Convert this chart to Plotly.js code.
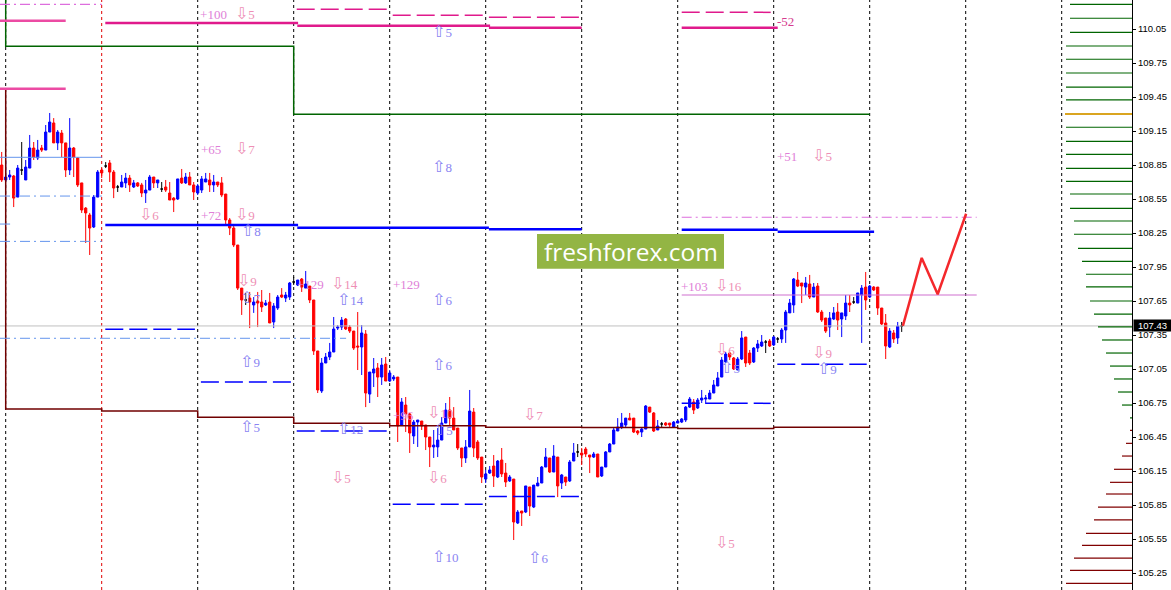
<!DOCTYPE html>
<html><head><meta charset="utf-8">
<script src="https://cdn.plot.ly/plotly-3.0.1.min.js"></script>
<style>html,body{margin:0;padding:0;background:#fff;overflow:hidden}#chart{width:1171px;height:590px}</style>
</head><body><div id="chart"></div>
<script>
// hourly candles, bar index starts at -1
const firstBar = -1;
const openP = [108.850,108.718,108.744,108.753,108.567,108.806,108.718,108.823,109.000,108.912,109.000,108.982,109.141,109.221,109.045,109.132,109.045,108.806,109.000,108.912,108.692,108.470,108.409,108.303,108.567,108.806,108.841,108.868,108.788,108.656,108.656,108.692,108.735,108.656,108.692,108.674,108.603,108.629,108.744,108.692,108.638,108.656,108.603,108.558,108.550,108.735,108.692,108.744,108.674,108.603,108.629,108.700,108.718,108.674,108.700,108.692,108.594,108.365,108.294,108.144,107.764,107.659,107.676,107.615,107.650,107.641,107.615,107.641,107.465,107.588,107.703,107.676,107.685,107.818,107.791,107.844,107.764,107.782,107.659,107.209,106.856,107.103,107.156,107.200,107.411,107.420,107.491,107.420,107.385,107.253,107.244,107.359,106.829,107.015,107.059,106.979,107.094,106.944,106.962,106.979,106.556,106.732,106.653,106.459,106.582,106.591,106.556,106.450,106.362,106.362,106.423,106.573,106.688,106.617,106.529,106.353,106.265,106.362,106.670,106.406,106.273,106.079,106.132,106.194,106.097,106.247,106.132,106.062,106.079,105.691,105.797,105.788,106.009,105.832,106.018,106.044,106.185,106.265,106.141,106.273,106.044,106.097,106.062,106.238,106.318,106.309,106.344,106.291,106.273,106.300,106.106,106.185,106.318,106.388,106.503,106.538,106.556,106.617,106.617,106.503,106.494,106.520,106.714,106.662,106.512,106.565,106.573,106.573,106.538,106.573,106.582,106.600,106.714,106.759,106.706,106.776,106.785,106.785,106.838,106.900,106.979,107.112,107.191,107.147,107.041,107.138,107.332,107.191,107.112,107.235,107.253,107.288,107.297,107.262,107.315,107.315,107.394,107.545,107.615,107.835,107.809,107.773,107.800,107.685,107.782,107.553,107.500,107.420,107.491,107.553,107.491,107.518,107.632,107.641,107.632,107.703,107.773,107.685,107.773,107.773,107.588,107.456,107.244,107.368,107.324,107.430];
const highP = [108.965,108.894,108.806,108.762,108.850,109.053,108.894,109.115,109.053,109.071,109.027,109.203,109.309,109.264,109.159,109.159,109.045,109.264,109.009,108.920,108.692,108.479,108.427,108.585,108.806,108.823,108.876,108.894,108.806,108.674,108.762,108.780,108.762,108.718,108.700,108.692,108.718,108.762,108.744,108.718,108.700,108.718,108.700,108.567,108.727,108.815,108.780,108.788,108.700,108.683,108.753,108.780,108.780,108.762,108.700,108.744,108.594,108.382,108.312,108.144,107.764,107.721,107.730,107.685,107.730,107.747,107.659,107.721,107.632,107.703,107.764,107.730,107.818,107.862,107.835,107.853,107.915,107.782,107.659,107.209,107.147,107.191,107.280,107.509,107.438,107.509,107.500,107.438,107.385,107.553,107.438,107.394,107.023,107.147,107.103,107.147,107.156,107.041,106.997,106.979,106.794,106.803,106.662,106.600,106.600,106.591,106.556,106.450,106.512,106.529,106.626,106.750,106.803,106.714,106.529,106.353,106.423,106.865,106.706,106.423,106.273,106.159,106.194,106.291,106.247,106.353,106.221,106.115,106.079,105.806,105.797,106.018,106.009,106.026,106.097,106.194,106.353,106.265,106.379,106.273,106.124,106.097,106.247,106.397,106.388,106.353,106.362,106.291,106.318,106.300,106.185,106.326,106.397,106.538,106.617,106.662,106.617,106.662,106.617,106.512,106.538,106.732,106.714,106.670,106.600,106.582,106.582,106.573,106.591,106.600,106.617,106.723,106.803,106.785,106.794,106.865,106.821,106.865,106.953,107.023,107.156,107.200,107.200,107.156,107.156,107.385,107.332,107.218,107.244,107.306,107.350,107.306,107.315,107.341,107.332,107.411,107.571,107.668,107.853,107.906,107.809,107.862,107.880,107.809,107.809,107.571,107.500,107.553,107.597,107.632,107.545,107.703,107.703,107.685,107.721,107.791,107.906,107.791,107.782,107.773,107.588,107.535,107.411,107.394,107.465,107.465];
const lowP = [108.700,108.700,108.718,108.479,108.567,108.762,108.718,108.823,108.894,108.894,108.965,108.982,109.141,109.045,108.982,108.920,108.744,108.762,108.744,108.656,108.427,108.162,108.056,108.294,108.567,108.735,108.823,108.700,108.558,108.612,108.656,108.647,108.612,108.647,108.656,108.567,108.515,108.629,108.647,108.647,108.612,108.612,108.541,108.435,108.541,108.683,108.683,108.674,108.541,108.585,108.603,108.700,108.612,108.612,108.656,108.567,108.321,108.232,108.126,107.747,107.527,107.615,107.411,107.545,107.420,107.553,107.606,107.456,107.411,107.571,107.676,107.641,107.659,107.791,107.782,107.730,107.764,107.632,107.174,106.838,106.838,107.103,107.129,107.200,107.394,107.394,107.394,107.368,107.218,107.041,106.997,106.714,106.750,106.891,106.803,106.909,106.944,106.935,106.944,106.406,106.556,106.494,106.309,106.388,106.362,106.512,106.335,106.185,106.265,106.273,106.423,106.573,106.556,106.512,106.335,106.185,106.221,106.362,106.273,106.247,106.044,106.044,106.124,106.009,106.088,106.097,106.009,106.053,105.541,105.682,105.665,105.779,105.753,105.823,106.018,106.044,106.185,106.132,106.141,105.920,105.991,106.018,106.053,106.238,106.273,106.203,106.273,106.132,106.265,106.097,106.097,106.185,106.318,106.388,106.503,106.520,106.538,106.600,106.485,106.467,106.450,106.520,106.662,106.494,106.512,106.538,106.547,106.529,106.538,106.573,106.573,106.582,106.706,106.653,106.697,106.750,106.741,106.785,106.838,106.900,106.979,107.103,107.129,107.041,107.041,107.129,107.068,107.085,107.103,107.200,107.244,107.191,107.244,107.253,107.280,107.280,107.280,107.545,107.545,107.773,107.632,107.703,107.668,107.685,107.545,107.465,107.368,107.332,107.482,107.394,107.332,107.482,107.553,107.624,107.632,107.280,107.571,107.676,107.738,107.527,107.438,107.138,107.235,107.280,107.271,107.377];
const closeP = [108.718,108.744,108.762,108.558,108.823,108.806,108.832,109.000,108.920,108.982,108.982,109.141,109.229,109.045,109.141,109.045,108.806,109.000,108.920,108.674,108.453,108.427,108.294,108.567,108.788,108.780,108.841,108.788,108.647,108.656,108.700,108.735,108.674,108.692,108.665,108.603,108.629,108.744,108.692,108.718,108.638,108.629,108.541,108.541,108.727,108.692,108.744,108.674,108.612,108.665,108.727,108.727,108.674,108.700,108.674,108.585,108.365,108.294,108.144,107.764,107.659,107.659,107.641,107.641,107.632,107.597,107.632,107.456,107.606,107.685,107.685,107.703,107.809,107.818,107.835,107.773,107.800,107.659,107.209,106.865,107.103,107.156,107.200,107.403,107.420,107.482,107.403,107.385,107.235,107.244,107.368,106.838,107.023,107.050,106.979,107.085,106.944,107.015,106.979,106.547,106.759,106.653,106.485,106.582,106.600,106.547,106.450,106.362,106.379,106.423,106.573,106.688,106.617,106.512,106.353,106.265,106.362,106.679,106.353,106.265,106.097,106.124,106.159,106.106,106.238,106.124,106.053,106.097,105.700,105.788,105.779,106.018,105.841,106.026,106.044,106.185,106.273,106.141,106.282,106.018,106.115,106.053,106.229,106.309,106.318,106.291,106.300,106.273,106.300,106.097,106.185,106.318,106.388,106.512,106.538,106.573,106.617,106.600,106.494,106.485,106.520,106.723,106.670,106.503,106.547,106.565,106.556,106.556,106.582,106.591,106.609,106.714,106.785,106.688,106.776,106.794,106.794,106.838,106.909,106.971,107.129,107.182,107.156,107.050,107.138,107.324,107.103,107.103,107.235,107.271,107.288,107.288,107.253,107.332,107.315,107.394,107.553,107.632,107.844,107.782,107.782,107.809,107.685,107.773,107.553,107.482,107.385,107.500,107.545,107.482,107.545,107.632,107.615,107.641,107.721,107.764,107.659,107.782,107.747,107.588,107.447,107.253,107.385,107.315,107.429,107.430];

const currentPrice = 107.43;
const dayStarts = [0,24,48,72,96,120,144,168,192,216,240,264];
const redDayStart = 24;

const tickVals = [105.25,105.55,105.85,106.15,106.45,106.75,107.05,107.35,107.65,107.95,108.25,108.55,108.85,109.15,109.45,109.75,110.05];
const tickText = ['105.25','105.55','105.85','106.15','106.45','106.75','107.05','107.35','107.65','107.95','108.25','108.55','108.85','109.15','109.45','109.75','110.05'];

// level segments: [fromBar, toBar, price]
const pinkLightLevels = [[-1.425,15,110.123],[-1.425,15,109.523]];
const magentaLevels = [[24.9,73.1,110.103],[72.9,121.1,110.079],[120.8,144,110.062],[169,193,110.062]];
const magentaDashLevels = [[72.75,95.25,110.224],[96.75,119.3,110.171],[120.8,143.3,110.153],[169,191.25,110.197]];
const violetDashDotLevels = [[-1.425,24,110.268],[169,242.75,108.389]];
const violetLevels = [[169,242.75,107.703]];
const lightBlueLevels = [[-1.425,24,108.918],[-1.425,1.1,108.329],[-1.425,1.1,109.523]];
const lightBlueDashDotLevels = [[-1.425,24,108.576],[-1.425,24,108.176],[-1.425,85.1,107.321]];
const pivotLevels = [[24.9,73.1,108.321],[72.9,120.8,108.297],[120.8,144,108.283],[169,193,108.279],[193,217.1,108.262]];
const supportDashLevels = [[24.9,47.3,107.400],[48.8,71.3,106.935],[72.75,95.25,106.503],[96.75,119.3,105.856],[120.8,143.3,105.926],[169,191.25,106.747],[192.9,215.25,107.091]];

// step lines: [bar, price]
const highStep = [[0,110.40],[0,109.897],[72,109.897],[72,109.297],[216,109.297]];
const lowStep = [[0,109.512],[0,106.697],[24,106.697],[24,106.679],[48,106.679],[48,106.624],[72,106.624],[72,106.571],[96,106.571],[96,106.550],[120,106.550],[120,106.535],[144,106.535],[144,106.533],[168,106.533],[168,106.526],[192,106.526],[192,106.535],[216,106.535]];

// forecast zigzag
const fcBar = [224.3,229.0,233.0,240.1];
const fcPrice = [107.43,108.03,107.71,108.42];

// right-side profile
const profUpPrice = [110.268,110.145,110.021,109.900,109.783,109.662,109.538,109.424,109.300,109.183,109.059,108.944,108.821,108.706,108.594,108.468,108.356,108.239,108.115,108.000,107.886,107.774,107.650,107.535,107.421,107.306,107.191,107.076,106.962,106.847,106.732,106.618];
const profUpLen = [15.5,15.5,15.5,16.5,16.5,16.5,16.5,16.5,16.75,16.5,16.5,16.5,16.5,16.5,15.5,15.5,14.5,14.5,13.5,12.5,11.5,11.5,10.5,9.5,8.5,7.5,6.5,5.5,4.5,3.5,2.5,0.5];
const profDnPrice = [106.509,106.394,106.282,106.165,106.050,105.947,105.832,105.718,105.600,105.494,105.382,105.274,105.159];
const profDnLen = [0.5,1.5,2.5,4.5,5.5,6.5,8.5,9.5,11.5,12.5,14.5,15.5,16.5];

// text labels: [bar, price, text]
const labels = [
 [48.6,110.167,'+100'],[57.3,110.167,'⇩5'],[106.6,110.010,'⇧5'],[106.6,108.815,'⇧8'],
 [48.8,108.976,'+65'],[57.3,108.976,'⇩7'],[33.3,108.394,'⇩6'],[48.8,108.394,'+72'],[57.3,108.394,'⇩9'],
 [58.8,108.253,'⇧8'],[57.8,107.809,'⇩9'],[58.6,107.659,'⇧7'],
 [72.8,107.782,'+129'],[81.3,107.782,'⇩14'],[82.8,107.644,'⇧14'],[96.8,107.782,'+129'],
 [106.6,107.644,'⇧6'],[106.6,107.070,'⇧6'],[58.6,107.100,'⇧9'],[58.6,106.527,'⇧5'],
 [82.8,106.503,'⇧12'],[81.3,106.077,'⇩5'],[96.8,106.626,'+96'],[105.3,106.644,'⇩10'],
 [106.8,106.497,'⇧5'],[105.3,106.077,'⇩6'],[129.3,106.626,'⇩7'],[106.6,105.380,'⇧10'],[130.6,105.365,'⇧6'],
 [168.8,107.771,'+103'],[177.3,107.771,'⇩16'],[177.3,107.203,'⇩6'],[178.6,107.041,'⇧5'],
 [201.6,107.180,'⇩9'],[202.8,107.032,'⇧9'],[177.3,105.503,'⇩5'],
 [192.8,108.918,'+51'],[201.6,108.918,'⇩5'],[192.8,110.106,'-52']
];

const X0 = -1.425, X1 = 281.575;

function segTrace(segs, color, width, dash){
  const x=[], y=[];
  segs.forEach(s=>{x.push(s[0],s[1],null); y.push(s[2],s[2],null);});
  return {type:'scatter',mode:'lines',x,y,line:{color,width,dash:dash||'solid'},hoverinfo:'skip',showlegend:false,connectgaps:false};
}
function stepTrace(pts,color,width){
  return {type:'scatter',mode:'lines',x:pts.map(p=>p[0]),y:pts.map(p=>p[1]),line:{color,width},hoverinfo:'skip',showlegend:false};
}
function profTrace(prices,lens,color,width){
  const segs = prices.map((p,i)=>[X1-lens[i],X1,p]);
  return segTrace(segs,color,width);
}

const traces = [];
traces.push(segTrace([[X0,X1,currentPrice]],'#c0c0c0',1));
traces.push(stepTrace(highStep,'#006400',1.5));
traces.push(stepTrace(lowStep,'#700000',1.5));
traces.push(segTrace(lightBlueLevels,'#6495ED',1));
traces.push(segTrace(lightBlueDashDotLevels,'#6495ED',1,'10px,4px,2px,4px'));
traces.push(segTrace(violetDashDotLevels,'#DD6EDD',1.2,'10px,4px,2px,4px'));
traces.push(segTrace(violetLevels,'#D070D0',1.2));
traces.push(segTrace(pinkLightLevels,'#EC4BA3',2.5));
traces.push(segTrace(magentaLevels,'#E01A8C',2.5));
traces.push(segTrace(magentaDashLevels,'#E01A8C',1.5,'18px,6px'));
traces.push(segTrace(pivotLevels,'#0000FF',2.5));
traces.push(segTrace(supportDashLevels,'#0000FF',1.5,'18px,6px'));

// profile
let pocIdx = 0;
profUpLen.forEach((l,i)=>{ if(l>profUpLen[pocIdx]) pocIdx=i; });
traces.push(profTrace(profUpPrice.filter((_,i)=>i!==pocIdx), profUpLen.filter((_,i)=>i!==pocIdx),'#006400',1.2));
traces.push(profTrace([profUpPrice[pocIdx]],[profUpLen[pocIdx]],'#DAA520',2));
traces.push(profTrace(profDnPrice,profDnLen,'#800000',1.2));

// labels
function labelColor(t){
  if(t[0]==='-') return '#D63C8E';
  if(t[0]==='+') return '#E07FD8';
  if(t[0]==='⇩') return '#EE8FB5';
  return '#8A84F2';
}
function labelHtml(t){
  if(t[0]==='⇩' || t[0]==='⇧'){
    return '<span style="font-family:DejaVu Sans;font-size:16px">'+t[0]+'</span>'+t.slice(1);
  }
  return t;
}
traces.push({type:'scatter',mode:'text',x:labels.map(l=>l[0]),y:labels.map(l=>l[1]),text:labels.map(l=>labelHtml(l[2])),
  textposition:'middle right',textfont:{family:'Liberation Serif, DejaVu Sans, serif',size:13,color:labels.map(l=>labelColor(l[2]))},
  hoverinfo:'skip',showlegend:false,cliponaxis:false});

// candles
const groups = {up:{x:[],o:[],h:[],l:[],c:[]},dn:{x:[],o:[],h:[],l:[],c:[]},dj:{x:[],o:[],h:[],l:[],c:[]}};
openP.forEach((o,i)=>{
  const c = closeP[i];
  const g = c>o ? groups.up : (c<o ? groups.dn : groups.dj);
  g.x.push(firstBar+i); g.o.push(o); g.h.push(highP[i]); g.l.push(lowP[i]); g.c.push(c);
});
function candleTrace(g,color){
  return {type:'candlestick',x:g.x,open:g.o,high:g.h,low:g.l,close:g.c,
    increasing:{line:{color,width:1},fillcolor:color},decreasing:{line:{color,width:1},fillcolor:color},
    whiskerwidth:0,hoverinfo:'skip',showlegend:false};
}
traces.push(candleTrace(groups.up,'#0000FF'));
traces.push(candleTrace(groups.dn,'#FF0000'));
traces.push(candleTrace(groups.dj,'#000000'));

traces.push({type:'scatter',mode:'lines',x:fcBar,y:fcPrice,line:{color:'#F4282C',width:2.5},hoverinfo:'skip',showlegend:false});

const shapes = dayStarts.map(d=>({type:'line',xref:'x',yref:'paper',x0:d,x1:d,y0:0,y1:1,layer:'below',
  line:{color: d===redDayStart ? '#E00000' : '#000000',width:1,dash:'3px,3px'}}));
// watermark box
shapes.push({type:'rect',xref:'paper',yref:'paper',x0:537/1132,x1:724/1132,y0:1-268.7/590,y1:1-234/590,
  fillcolor:'#93B544',line:{width:0},layer:'above'});

const layout = {
  width:1171,height:590,margin:{l:0,r:39,t:0,b:0,pad:0},
  paper_bgcolor:'#ffffff',plot_bgcolor:'#ffffff',
  showlegend:false,hovermode:false,dragmode:false,
  boxgap:0.45,boxgroupgap:0,
  xaxis:{range:[X0,X1],visible:false,showgrid:false,zeroline:false,rangeslider:{visible:false},fixedrange:true},
  yaxis:{range:[105.100,110.306],side:'right',showline:true,linecolor:'#000',linewidth:1,ticks:'outside',ticklen:3,
    tickcolor:'#000',tickvals:tickVals,ticktext:tickText,showgrid:false,zeroline:false,fixedrange:true,
    tickfont:{family:'Liberation Sans, Arial, sans-serif',size:9.5,color:'#000'}},
  shapes:shapes,
  annotations:[
    {xref:'paper',yref:'y',x:1,y:currentPrice,xanchor:'left',yanchor:'middle',text:'107.43',showarrow:false,
     font:{family:'Liberation Sans, Arial, sans-serif',size:9.5,color:'#fff'},bgcolor:'#000',width:37,height:11,borderpad:0,xshift:1},
    {xref:'paper',yref:'paper',x:630.5/1132,y:1-251.3/590,xanchor:'center',yanchor:'middle',text:'freshforex.com',showarrow:false,
     font:{family:'Open Sans, sans-serif',size:24.5,color:'#ffffff'}}
  ]
};
Plotly.newPlot('chart',traces,layout,{staticPlot:true,displayModeBar:false});
</script>
</body></html>
